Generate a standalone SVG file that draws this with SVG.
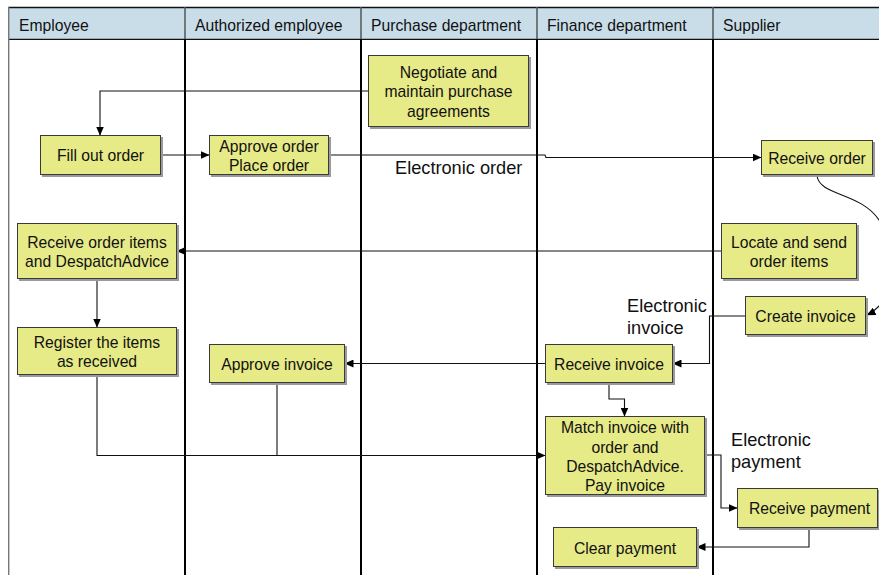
<svg xmlns="http://www.w3.org/2000/svg" width="879" height="575" viewBox="0 0 879 575">
  <style>
    text { font-family: "Liberation Sans", Arial, sans-serif; fill: #111; }
    .hd { font-size: 15.7px; }
    .nt { font-size: 15.7px; text-anchor: middle; }
    .lbl { font-size: 18.2px; }
    .box { fill: #e6ea87; stroke: #3a3a3a; stroke-width: 1; }
    .shadow { fill: #9a9a9a; }
    .lane { stroke: #000; stroke-width: 2; }
    .hsep { stroke: #555; stroke-width: 1.5; }
    .edge { fill: none; stroke: #111; stroke-width: 1.1; }
    .edge.arrow { marker-end: url(#arr); }
  </style>
  <defs>
    <marker id="arr" markerWidth="9" markerHeight="8" refX="8.5" refY="4" orient="auto" markerUnits="userSpaceOnUse">
      <path d="M0,0 L9,4 L0,8 Z" fill="#000"/>
    </marker>
  </defs>

  <rect width="879" height="575" fill="#fff"/>

  <!-- swimlane header and lane dividers -->
  <g id="lanes">
    <rect x="8.5" y="7" width="880" height="32" fill="#c9dde9"/>
    <line x1="8" y1="7.5" x2="879" y2="7.5" stroke="#111" stroke-width="1.3"/>
    <line x1="8" y1="39.3" x2="879" y2="39.3" stroke="#111" stroke-width="1.3"/>
    <line x1="8.7" y1="7" x2="8.7" y2="575" stroke="#777" stroke-width="1.4"/>
    <line class="hsep" x1="185" y1="7" x2="185" y2="39"/>
    <line class="hsep" x1="361" y1="7" x2="361" y2="39"/>
    <line class="hsep" x1="537" y1="7" x2="537" y2="39"/>
    <line class="hsep" x1="713" y1="7" x2="713" y2="39"/>
    <line class="lane" x1="185" y1="39" x2="185" y2="575"/>
    <line class="lane" x1="361" y1="39" x2="361" y2="575"/>
    <line class="lane" x1="537" y1="39" x2="537" y2="575"/>
    <line class="lane" x1="713" y1="39" x2="713" y2="575"/>
    <text class="hd" x="19" y="31">Employee</text>
    <text class="hd" x="195" y="31">Authorized employee</text>
    <text class="hd" x="371" y="31">Purchase department</text>
    <text class="hd" x="547" y="31">Finance department</text>
    <text class="hd" x="723" y="31">Supplier</text>
  </g>

  <!-- connectors -->
  <g id="connectors">
    <path class="edge arrow" d="M368,91 H100 V135"/>
    <path class="edge arrow" d="M161,155 H209"/>
    <path class="edge arrow" d="M329,155 H545 L546,157.5 H761"/>
    <path class="edge arrow" d="M817,176 C820,196 860,192 879,220 C900,250 898,300 867,315"/>
    <path class="edge arrow" d="M721,251 H177"/>
    <path class="edge arrow" d="M97,279 V327"/>
    <path class="edge arrow" d="M745,316 H709.5 V363.5 H673"/>
    <path class="edge arrow" d="M545,363.5 H345"/>
    <path class="edge arrow" d="M609,383 V399 H624.5 V416"/>
    <path class="edge" d="M97,375 V455.5 H277" stroke="#444"/>
    <path class="edge" d="M277,383 V455.5" stroke="#555"/>
    <path class="edge arrow" d="M277,455.5 H545"/>
    <path class="edge arrow" d="M705,455 H721 V508 H737"/>
    <path class="edge arrow" d="M809,528 V547 H697"/>
    <text class="lbl" x="395" y="173.5">Electronic order</text>
    <text class="lbl" x="627" y="311.5">Electronic</text>
    <text class="lbl" x="627" y="333.5">invoice</text>
    <text class="lbl" x="731" y="446">Electronic</text>
    <text class="lbl" x="731" y="468">payment</text>
  </g>

  <g id="negotiate">
    <rect class="shadow" x="370" y="57" width="161" height="72"/>
    <rect class="box" x="368.5" y="55.5" width="160" height="71"/>
    <text class="nt" x="448.5" y="77.7">Negotiate and</text>
    <text class="nt" x="448.5" y="97.2">maintain purchase</text>
    <text class="nt" x="448.5" y="116.7">agreements</text>
  </g>

  <g id="fill-out-order">
    <rect class="shadow" x="42" y="137" width="121" height="40"/>
    <rect class="box" x="40.5" y="135.5" width="120" height="39"/>
    <text class="nt" x="100.5" y="161">Fill out order</text>
  </g>

  <g id="approve-order">
    <rect class="shadow" x="211" y="137" width="120" height="40"/>
    <rect class="box" x="209.5" y="135.5" width="119" height="39"/>
    <text class="nt" x="269" y="152.3">Approve order</text>
    <text class="nt" x="269" y="170.7">Place order</text>
  </g>

  <g id="receive-order">
    <rect class="shadow" x="763" y="142" width="112" height="35"/>
    <rect class="box" x="761.5" y="140.5" width="111" height="34"/>
    <text class="nt" x="817" y="164.3">Receive order</text>
  </g>

  <g id="receive-items">
    <rect class="shadow" x="19" y="225" width="160" height="56"/>
    <rect class="box" x="17.5" y="223.5" width="159" height="55"/>
    <text class="nt" x="97" y="248.3">Receive order items</text>
    <text class="nt" x="97" y="266.7">and DespatchAdvice</text>
  </g>

  <g id="locate-send">
    <rect class="shadow" x="723" y="225" width="136" height="56"/>
    <rect class="box" x="721.5" y="223.5" width="135" height="55"/>
    <text class="nt" x="789" y="248.3">Locate and send</text>
    <text class="nt" x="789" y="266.7">order items</text>
  </g>

  <g id="create-invoice">
    <rect class="shadow" x="747" y="298" width="121" height="39"/>
    <rect class="box" x="745.5" y="296.5" width="120" height="38"/>
    <text class="nt" x="805.5" y="322.3">Create invoice</text>
  </g>

  <g id="register-items">
    <rect class="shadow" x="19" y="329" width="160" height="48"/>
    <rect class="box" x="17.5" y="327.5" width="159" height="47"/>
    <text class="nt" x="97" y="347.7">Register the items</text>
    <text class="nt" x="97" y="366.7">as received</text>
  </g>

  <g id="approve-invoice">
    <rect class="shadow" x="211" y="346" width="136" height="39"/>
    <rect class="box" x="209.5" y="344.5" width="135" height="38"/>
    <text class="nt" x="277" y="370">Approve invoice</text>
  </g>

  <g id="receive-invoice">
    <rect class="shadow" x="547" y="346" width="128" height="39"/>
    <rect class="box" x="545.5" y="344.5" width="127" height="38"/>
    <text class="nt" x="609" y="370">Receive invoice</text>
  </g>

  <g id="match-invoice">
    <rect class="shadow" x="547" y="418" width="160" height="79"/>
    <rect class="box" x="545.5" y="416.5" width="159" height="78"/>
    <text class="nt" x="625" y="433.3">Match invoice with</text>
    <text class="nt" x="625" y="452.5">order and</text>
    <text class="nt" x="625" y="471.7">DespatchAdvice.</text>
    <text class="nt" x="625" y="491">Pay invoice</text>
  </g>

  <g id="receive-payment">
    <rect class="shadow" x="739" y="490" width="141" height="40"/>
    <rect class="box" x="737.5" y="488.5" width="140" height="39"/>
    <text class="nt" x="809.5" y="514.3">Receive payment</text>
  </g>

  <g id="clear-payment">
    <rect class="shadow" x="555" y="529" width="144" height="40"/>
    <rect class="box" x="553.5" y="527.5" width="143" height="39"/>
    <text class="nt" x="625" y="554">Clear payment</text>
  </g>
</svg>
